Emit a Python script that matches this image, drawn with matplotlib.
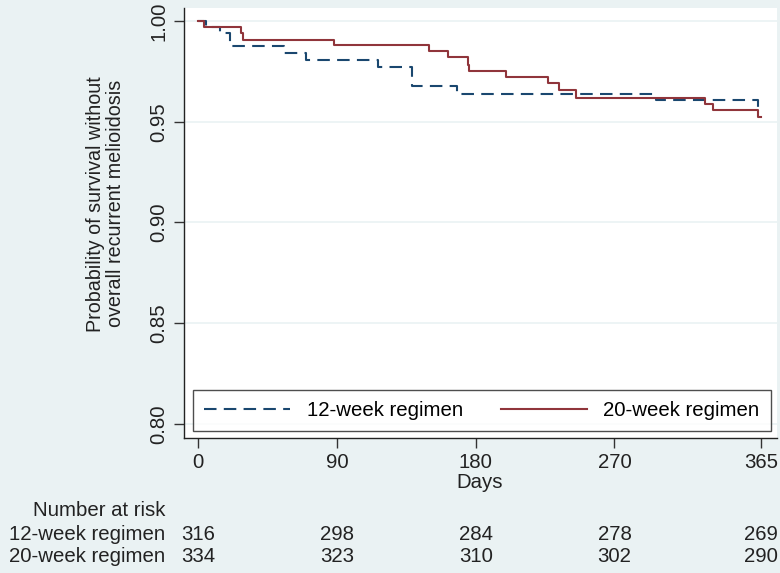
import matplotlib
matplotlib.use("Agg")
import matplotlib.pyplot as plt
import matplotlib.transforms as mtransforms

# Kaplan-Meier steps
days_12 = [0, 5, 14, 21, 56, 70, 117, 139, 168, 297, 363, 365]
surv_12 = [1.0, 0.997, 0.994, 0.9875, 0.984, 0.9805, 0.977, 0.9676, 0.964, 0.961, 0.957, 0.957]

days_20 = [0, 4, 28, 29, 88, 150, 162, 175, 176, 200, 227, 234, 245, 329, 334, 363, 365]
surv_20 = [1.0, 0.997, 0.994, 0.9905, 0.988, 0.985, 0.982, 0.978, 0.975, 0.972, 0.969,
           0.966, 0.962, 0.959, 0.956, 0.9525, 0.9525]

xticks = [0, 90, 180, 270, 365]
yticks = [0.80, 0.85, 0.90, 0.95, 1.00]
risk_12 = [316, 298, 284, 278, 269]
risk_20 = [334, 323, 310, 302, 290]

bg = "#EAF2F3"
navy = "#1A476F"
maroon = "#90353B"
fs = 14.7

plt.rcParams["font.family"] = ["Liberation Sans", "DejaVu Sans"]

fig = plt.figure(figsize=(7.8, 5.73), dpi=100, facecolor=bg)
ax = fig.add_axes([184 / 780, 1 - 438 / 573, 593 / 780, 430 / 573])
ax.set_facecolor("white")

ax.step(days_12, surv_12, where="post", color=navy, linewidth=1.5,
        linestyle=(0, (6, 3.5)), label="12-week regimen")
ax.step(days_20, surv_20, where="post", color=maroon, linewidth=1.5,
        label="20-week regimen")

ax.set_xlim(-9.1, 375.4)
ax.set_ylim(0.79305, 1.00645)
ax.set_xticks(xticks)
ax.set_yticks(yticks)
ax.set_yticklabels([f"{v:.2f}" for v in yticks], rotation=90, va="center")
ax.tick_params(direction="out", length=7, width=1, color="#333333",
               labelsize=fs, labelcolor="#222222", pad=4)
for y in yticks:
    ax.axhline(y, color=bg, linewidth=1.2, zorder=0)

for s in ["top", "right"]:
    ax.spines[s].set_visible(False)
for s in ["left", "bottom"]:
    ax.spines[s].set_color("#222222")
    ax.spines[s].set_linewidth(1)

ax.set_ylabel("Probability of survival without\noverall recurrent melioidosis",
              fontsize=14.2, color="#222222", labelpad=18, linespacing=1.05)
ax.yaxis.label.set_y(0.545)

leg = ax.legend(loc="lower left", bbox_to_anchor=(0.0155, 0.016, 0.974, 0.093),
                mode="expand", ncol=2, fontsize=fs, frameon=True, fancybox=False,
                edgecolor="#222222", handlelength=4.2, borderaxespad=0,
                borderpad=0.55, columnspacing=2.2)
leg.get_frame().set_linewidth(1)

# x label and risk table
fig.text(480 / 780, 1 - 482 / 573, "Days", ha="center", va="center",
         fontsize=fs, color="#222222")
fig.text(33 / 780, 1 - 510 / 573, "Number at risk", ha="left", va="center",
         fontsize=fs, color="#222222")
fig.text(165 / 780, 1 - 535 / 573, "12-week regimen", ha="right", va="center",
         fontsize=fs, color="#222222")
fig.text(165 / 780, 1 - 557 / 573, "20-week regimen", ha="right", va="center",
         fontsize=fs, color="#222222")

trans = mtransforms.blended_transform_factory(ax.transData, fig.transFigure)
for x, n1, n2 in zip(xticks, risk_12, risk_20):
    ax.text(x, 1 - 535 / 573, str(n1), transform=trans, ha="center", va="center",
            fontsize=fs, color="#222222", clip_on=False)
    ax.text(x, 1 - 557 / 573, str(n2), transform=trans, ha="center", va="center",
            fontsize=fs, color="#222222", clip_on=False)

fig.savefig("out.png", dpi=100, facecolor=bg)
